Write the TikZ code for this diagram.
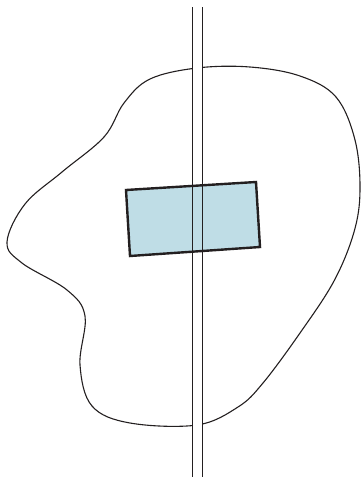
\documentclass[tikz,border=0pt]{standalone}
\definecolor{fillblue}{HTML}{BFDDE6}
\definecolor{ink}{HTML}{231F20}
\begin{document}
\begin{tikzpicture}[x=1pt,y=-1pt,
  blobline/.style={draw=ink,line width=1.1pt},
  railline/.style={draw=ink,line width=1.5pt},
  plate/.style={draw=ink,line width=2.4pt,fill=fillblue,line join=miter}]
\useasboundingbox (0,0) rectangle (361,477);
% blob
\draw[blobline] plot[smooth cycle,tension=0.6] coordinates {
 (197,68) (150,79) (124,103) (104,137) (62,172) (25,204) (7,242) (22,263)
 (67,290) (85,316) (80,365) (92,406) (130,423) (197,425) (238,407) (263,383)
 (300,333) (334,281) (354,232) (360,190) (355,140) (336,97) (300,76) (250,67)};
% strip
\fill[white] (192.6,0) rectangle (202.4,477);
% plate
\draw[plate] (126,190) -- (256,182) -- (260,247) -- (130,256) -- cycle;
% rails
\coordinate (a1) at (192.3,7);
\coordinate (a2) at (192.3,477);
\coordinate (b1) at (202.7,7);
\coordinate (b2) at (202.7,477);
\draw[railline] (a1) -- (a2);
\draw[railline] (b1) -- (b2);
\end{tikzpicture}
\end{document}
